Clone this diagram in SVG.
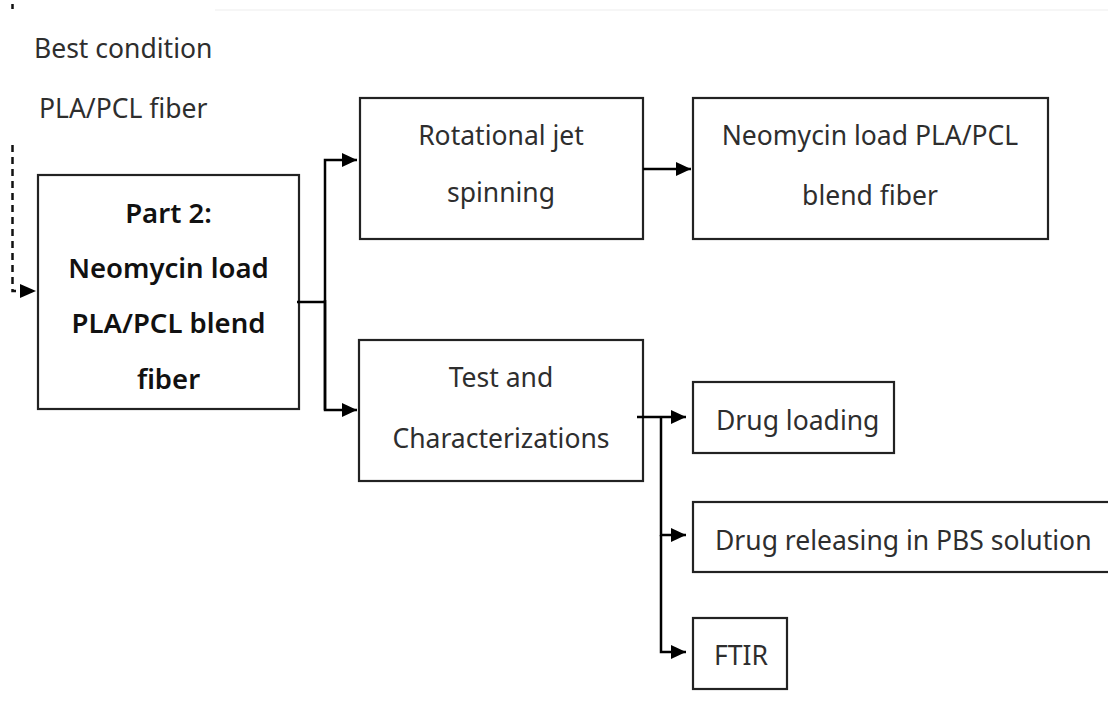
<svg xmlns="http://www.w3.org/2000/svg" width="1108" height="701" viewBox="0 0 1108 701">
  <defs>
    <marker id="arrow" viewBox="0 0 15 14" refX="15" refY="7" markerWidth="15" markerHeight="14" markerUnits="userSpaceOnUse" orient="auto">
      <path d="M0,0 L15,7 L0,14 Z" fill="#000"/>
    </marker>
    <style>
      .box { fill: #fff; stroke: #222; stroke-width: 2.2; }
      .lbl { font-family: "Noto Sans", "Open Sans", sans-serif; font-size: 26.5px; fill: #2e2e2e; }
      .mid { text-anchor: middle; }
      .bold { font-weight: 600; font-size: 27.5px; fill: #111; }
      .wire { fill: none; stroke: #000; stroke-width: 2.5; }
      .dash { fill: none; stroke: #111; stroke-width: 2.5; stroke-dasharray: 7 5; }
    </style>
  </defs>

  <rect width="1108" height="701" fill="#fff"/>
  <!-- faint page rule along the top -->
  <line x1="215" y1="10" x2="1108" y2="10" stroke="#f3f3f3" stroke-width="1.5"/>

  <!-- side note -->
  <g id="note">
    <text class="lbl" x="34" y="58">Best condition</text>
    <text class="lbl" x="39" y="118">PLA/PCL fiber</text>
  </g>

  <g id="part2">
    <rect class="box" x="38" y="175" width="261" height="234"/>
    <text class="lbl mid bold" x="168.5" y="223">Part 2:</text>
    <text class="lbl mid bold" x="168.5" y="278">Neomycin load</text>
    <text class="lbl mid bold" x="168.5" y="333">PLA/PCL blend</text>
    <text class="lbl mid bold" x="168.5" y="389">fiber</text>
  </g>

  <g id="rotational">
    <rect class="box" x="360" y="98" width="283" height="141"/>
    <text class="lbl mid" x="501" y="145">Rotational jet</text>
    <text class="lbl mid" x="501" y="202">spinning</text>
  </g>

  <g id="neomycin-fiber">
    <rect class="box" x="693" y="98" width="355" height="141"/>
    <text class="lbl mid" x="870" y="145">Neomycin load PLA/PCL</text>
    <text class="lbl mid" x="870" y="205">blend fiber</text>
  </g>

  <g id="test">
    <rect class="box" x="359" y="340" width="284" height="141"/>
    <text class="lbl mid" x="501" y="387">Test and</text>
    <text class="lbl mid" x="501" y="448">Characterizations</text>
  </g>

  <g id="drug-loading">
    <rect class="box" x="693" y="382" width="201" height="71"/>
    <text class="lbl" x="716" y="430">Drug loading</text>
  </g>

  <g id="drug-releasing">
    <rect class="box" x="693" y="502" width="430" height="70"/>
    <text class="lbl" x="715" y="550">Drug releasing in PBS solution</text>
  </g>

  <g id="ftir">
    <rect class="box" x="693" y="618" width="94" height="71"/>
    <text class="lbl" x="714" y="665">FTIR</text>
  </g>

  <g id="connectors">
    <!-- incoming dashed link from the previous stage -->
    <line class="dash" x1="12.5" y1="4" x2="12.5" y2="9"/>
    <polyline class="dash" points="12.5,145 12.5,291 16,291"/>
    <path d="M20,284 L36,291 L20,298 Z" fill="#000"/>

    <!-- Part 2 fan-out -->
    <polyline class="wire" points="297,302 325,302"/>
    <polyline class="wire" points="325,410 325,160 357,160" marker-end="url(#arrow)"/>
    <polyline class="wire" points="325,300 325,410 357,410" marker-end="url(#arrow)"/>

    <!-- spinning to product -->
    <line class="wire" x1="643" y1="169" x2="691" y2="169" marker-end="url(#arrow)"/>

    <!-- characterisation fan-out -->
    <line class="wire" x1="637" y1="417" x2="686" y2="417" marker-end="url(#arrow)"/>
    <polyline class="wire" points="661,417 661,535 686,535" marker-end="url(#arrow)"/>
    <polyline class="wire" points="661,535 661,652 686,652" marker-end="url(#arrow)"/>
  </g>
</svg>
